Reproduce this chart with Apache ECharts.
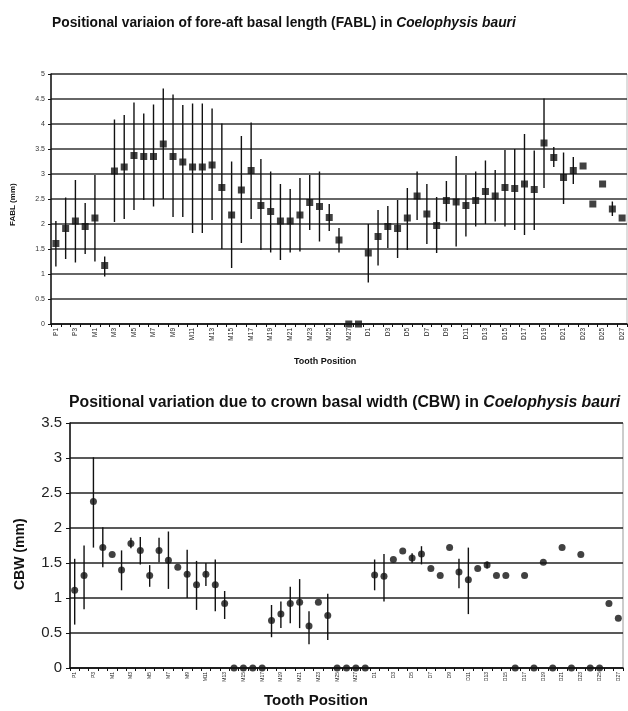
<!DOCTYPE html>
<html>
<head>
<meta charset="utf-8">
<script src="https://cdn.jsdelivr.net/npm/echarts@6/dist/echarts.min.js"></script>
<style>
  html, body { margin: 0; padding: 0; background: #fff; }
  #chart { width: 628px; height: 711px; }
</style>
</head>
<body>
<div id="chart"></div>
<script>
// Tooth positions: premaxillary P1-P4, maxillary M1-M28, dentary D1-D27
const toothPositions = [
  'P1','P2','P3','P4',
  'M1','M2','M3','M4','M5','M6','M7','M8','M9','M10','M11','M12','M13','M14',
  'M15','M16','M17','M18','M19','M20','M21','M22','M23','M24','M25','M26','M27','M28',
  'D1','D2','D3','D4','D5','D6','D7','D8','D9','D10','D11','D12','D13','D14',
  'D15','D16','D17','D18','D19','D20','D21','D22','D23','D24','D25','D26','D27'
];

// Fore-aft basal length (mm): mean, range low, range high
const fablMean = [
  1.61, 1.91, 2.06, 1.95,
  2.12, 1.17, 3.06, 3.14, 3.37, 3.35, 3.35, 3.60, 3.35, 3.24, 3.14, 3.14, 3.18, 2.73,
  2.18, 2.68, 3.07, 2.37, 2.25, 2.06, 2.06, 2.18, 2.43, 2.35, 2.13, 1.68, 0, 0,
  1.42, 1.75, 1.95, 1.91, 2.12, 2.56, 2.20, 1.97, 2.47, 2.44, 2.37, 2.47, 2.65, 2.56,
  2.73, 2.71, 2.80, 2.69, 3.62, 3.33, 2.93, 3.07, 3.16, 2.40, 2.80, 2.30, 2.12
];
const fablLow = [
  1.15, 1.30, 1.23, 1.40,
  1.25, 0.95, 2.04, 2.10, 2.28, 2.48, 2.35, 2.50, 2.14, 2.14, 1.82, 1.82, 2.08, 1.50,
  1.12, 1.62, 2.10, 1.48, 1.43, 1.28, 1.43, 1.45, 1.88, 1.65, 1.86, 1.43, null, null,
  0.83, 1.17, 1.52, 1.32, 1.48, 2.08, 1.60, 1.42, 2.05, 1.55, 1.75, 1.95, 2.00, 2.05,
  1.95, 1.88, 1.78, 1.88, 2.72, 3.14, 2.40, 2.80, null, null, null, 2.16, null
];
const fablHigh = [
  2.06, 2.53, 2.88, 2.42,
  2.98, 1.35, 4.09, 4.18, 4.43, 4.21, 4.39, 4.71, 4.59, 4.38, 4.41, 4.41, 4.31, 4.01,
  3.25, 3.76, 4.03, 3.30, 3.05, 2.80, 2.70, 2.92, 2.98, 3.05, 2.40, 1.92, null, null,
  2.00, 2.28, 2.36, 2.48, 2.72, 3.05, 2.80, 2.54, 2.86, 3.36, 2.98, 3.05, 3.27, 3.08,
  3.48, 3.50, 3.80, 3.47, 4.51, 3.54, 3.43, 3.34, null, null, null, 2.45, null
];

// Crown basal width (mm): mean, range low, range high
const cbwMean = [
  1.11, 1.32, 2.38, 1.72,
  1.62, 1.40, 1.78, 1.68, 1.32, 1.68, 1.54, 1.44, 1.34, 1.19, 1.34, 1.19, 0.92, 0,
  0, 0, 0, 0.68, 0.77, 0.92, 0.94, 0.60, 0.94, 0.75, 0, 0, 0, 0,
  1.33, 1.31, 1.55, 1.67, 1.57, 1.63, 1.42, 1.32, 1.72, 1.37, 1.26, 1.42, 1.47, 1.32,
  1.32, 0, 1.32, 0, 1.51, 0, 1.72, 0, 1.62, 0, 0, 0.92, 0.71
];
const cbwLow = [
  0.62, 0.84, 1.72, 1.44,
  null, 1.11, 1.71, 1.48, 1.16, 1.51, 1.13, null, 1.00, 0.83, 1.17, 0.81, 0.70, null,
  null, null, null, 0.44, 0.57, 0.64, 0.57, 0.34, null, 0.40, null, null, null, null,
  1.11, 0.95, null, null, 1.50, 1.48, null, null, null, 1.14, 0.77, null, 1.42, null,
  null, null, null, null, null, null, null, null, null, null, null, null, null
];
const cbwHigh = [
  1.56, 1.75, 3.01, 2.01,
  null, 1.68, 1.86, 1.87, 1.47, 1.86, 1.95, null, 1.69, 1.53, 1.50, 1.55, 1.10, null,
  null, null, null, 0.90, 0.95, 1.16, 1.27, 0.81, null, 1.06, null, null, null, null,
  1.55, 1.63, null, null, 1.64, 1.74, null, null, null, 1.56, 1.72, null, 1.52, null,
  null, null, null, null, null, null, null, null, null, null, null, null, null
];

const FONT = '"Liberation Sans", Arial, sans-serif';
const INK = '#111';

function rangePairs(low, high) {
  const out = [];
  for (let i = 0; i < low.length; i++) {
    if (low[i] != null && high[i] != null) out.push([i, low[i], high[i]]);
  }
  return out;
}

// vertical min-max bar for each tooth position that has a range
function rangeBars(gridIndex, low, high) {
  return {
    type: 'custom',
    xAxisIndex: gridIndex,
    yAxisIndex: gridIndex,
    data: rangePairs(low, high),
    encode: { x: 0, y: [1, 2] },
    silent: true,
    z: 3,
    renderItem: function (params, api) {
      const i = api.value(0);
      const a = api.coord([i, api.value(1)]);
      const b = api.coord([i, api.value(2)]);
      return {
        type: 'line',
        shape: { x1: a[0], y1: a[1], x2: b[0], y2: b[1] },
        style: { stroke: INK, lineWidth: 1.4 }
      };
    }
  };
}

const chart = echarts.init(document.getElementById('chart'), null, { renderer: 'canvas' });

chart.setOption({
  backgroundColor: '#fff',
  animation: false,
  title: [
    {
      text: '{b|Positional variaion of fore-aft basal length (FABL) in }{i|Coelophysis bauri}',
      left: 47, top: 11,
      textStyle: {
        rich: {
          b: { fontFamily: FONT, fontSize: 13.8, fontWeight: 'bold', color: INK },
          i: { fontFamily: FONT, fontSize: 13.8, fontWeight: 'bold', fontStyle: 'italic', color: INK }
        }
      }
    },
    {
      text: '{b|Positional variation due to crown basal width (CBW) in }{i|Coelophysis bauri}',
      left: 64, top: 390,
      textStyle: {
        rich: {
          b: { fontFamily: FONT, fontSize: 15.8, fontWeight: 'bold', color: INK },
          i: { fontFamily: FONT, fontSize: 15.8, fontWeight: 'bold', fontStyle: 'italic', color: INK }
        }
      }
    }
  ],
  graphic: [
    {
      type: 'text', left: 294, top: 357,
      style: { text: 'Tooth Position', font: 'bold 9px ' + FONT, fill: INK }
    },
    {
      type: 'text', left: 264, top: 693,
      style: { text: 'Tooth Position', font: 'bold 15px ' + FONT, fill: INK }
    },
    {
      type: 'text', x: 9, y: 226, rotation: Math.PI / 2,
      style: { text: 'FABL (mm)', font: 'bold 8px ' + FONT, fill: INK }
    },
    {
      type: 'text', x: 13, y: 590, rotation: Math.PI / 2,
      style: { text: 'CBW (mm)', font: 'bold 14px ' + FONT, fill: INK }
    }
  ],
  grid: [
    { left: 51, right: 1, top: 74, height: 250, show: true, borderColor: '#bbb', borderWidth: 1 },
    { left: 70, right: 5, top: 423, height: 245, show: true, borderColor: '#999', borderWidth: 1 }
  ],
  xAxis: [
    {
      type: 'category', gridIndex: 0, data: toothPositions, boundaryGap: true,
      axisLine: { lineStyle: { color: INK, width: 1.5 } },
      axisTick: { show: true, inside: false, length: 3, interval: 0, lineStyle: { color: INK } },
      axisLabel: { interval: 1, rotate: 90, fontSize: 6.5, fontFamily: FONT, color: '#222', margin: 4 },
      splitLine: { show: false }
    },
    {
      type: 'category', gridIndex: 1, data: toothPositions, boundaryGap: true,
      axisLine: { lineStyle: { color: INK, width: 1.5 } },
      axisTick: { show: true, inside: false, length: 3, interval: 0, lineStyle: { color: INK } },
      axisLabel: { interval: 1, rotate: 90, fontSize: 5, fontFamily: FONT, color: '#222', margin: 4 },
      splitLine: { show: false }
    }
  ],
  yAxis: [
    {
      type: 'value', gridIndex: 0, min: 0, max: 5, interval: 0.5,
      axisLine: { show: true, lineStyle: { color: INK, width: 1.5 } },
      axisTick: { show: true, length: 3, lineStyle: { color: INK } },
      axisLabel: { fontSize: 7, fontFamily: FONT, color: '#333', margin: 6 },
      splitLine: { lineStyle: { color: '#333', width: 1.5 } }
    },
    {
      type: 'value', gridIndex: 1, min: 0, max: 3.5, interval: 0.5,
      axisLine: { show: true, lineStyle: { color: INK, width: 1.5 } },
      axisTick: { show: true, length: 4, lineStyle: { color: INK } },
      axisLabel: { fontSize: 15, fontFamily: FONT, color: '#222', margin: 8 },
      splitLine: { lineStyle: { color: '#222', width: 1.5 } }
    }
  ],
  series: [
    rangeBars(0, fablLow, fablHigh),
    {
      type: 'scatter', xAxisIndex: 0, yAxisIndex: 0,
      data: fablMean, symbol: 'rect', symbolSize: 7,
      itemStyle: { color: INK }, z: 4
    },
    rangeBars(1, cbwLow, cbwHigh),
    {
      type: 'scatter', xAxisIndex: 1, yAxisIndex: 1,
      data: cbwMean, symbol: 'circle', symbolSize: 7,
      itemStyle: { color: INK }, z: 4
    }
  ]
});
</script>
</body>
</html>
